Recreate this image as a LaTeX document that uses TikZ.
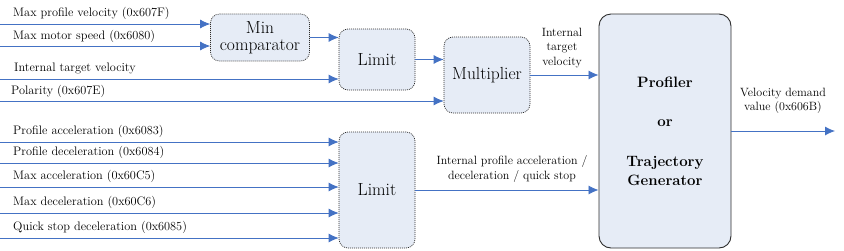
\documentclass[tikz,border=0pt]{standalone}
\usetikzlibrary{arrows.meta, positioning, calc}
\definecolor{flowblue}{RGB}{68, 114, 196}
\definecolor{boxfill}{RGB}{230, 236, 246}
\definecolor{boxline}{RGB}{45, 45, 45}

\begin{document}
\begin{tikzpicture}[
    x=1pt, y=-1pt,
    block/.style={rectangle, rounded corners=9pt, draw=boxline, line width=0.7pt, dash pattern=on 1pt off 1pt, fill=boxfill, font=\fontsize{17.5}{17}\selectfont, align=center, inner sep=1pt},
    genblock/.style={rectangle, rounded corners=12pt, draw=boxline, line width=0.9pt, fill=boxfill, font=\fontsize{15}{19}\selectfont\bfseries, align=center},
    sig/.style={font=\fontsize{12.3}{12}\selectfont, anchor=west, inner sep=0pt},
    note/.style={font=\fontsize{12}{14.5}\selectfont, align=center, inner sep=0pt},
    arrow/.style={-{Latex[length=10pt, width=9pt]}, flowblue, line width=0.8pt}
]
\useasboundingbox (0,0) rectangle (844,250);

% Blocks
\node[block, minimum width=99pt, minimum height=47pt] (minc) at (260,37.5) {Min\\comparator};
\node[block, minimum width=76pt, minimum height=61pt] (limA) at (377,59.5) {Limit};
\node[block, minimum width=86pt, minimum height=76pt] (mult) at (487,75) {Multiplier};
\node[block, minimum width=76pt, minimum height=116pt] (limB) at (377,190) {Limit};
\node[genblock, minimum width=132pt, minimum height=234pt] (prof) at (665,131) {Profiler\\[20pt]or\\[21pt]Trajectory\\Generator};

% Velocity inputs
\coordinate (inA) at (0,24);
\coordinate (inB) at (0,46);
\coordinate (inC) at (0,79);
\coordinate (inD) at (0,101);
\node[sig] (labA) at (13,13) {Max profile velocity (0x607F)};
\node[sig] (labB) at (13,36) {Max motor speed (0x6080)};
\node[sig] (labC) at (14,68) {Internal target velocity};
\node[sig] (labD) at (11,91) {Polarity (0x607E)};
\draw[arrow] (inA) -- (inA -| minc.west);
\draw[arrow] (inB) -- (inB -| minc.west);
\draw[arrow] (inC) -- (inC -| limA.west);
\draw[arrow] (inD) -- (inD -| mult.west);

% Acceleration inputs
\foreach \y/\txt [count=\i] in {142/Profile acceleration (0x6083), 163/Profile deceleration (0x6084), 187/Max acceleration (0x60C5), 213/Max deceleration (0x60C6), 238/Quick stop deceleration (0x6085)}{
  \coordinate (acc\i) at (0,\y);
  \node[sig] (acclab\i) at (13,\y-11) {\txt};
  \draw[arrow] (acc\i) -- (acc\i -| limB.west);
}

% Internal connections
\draw[arrow] (minc.east) -- (minc.east -| limA.west);
\draw[arrow] (limA.east) -- (limA.east -| mult.west);
\draw[arrow] (mult.east) -- (mult.east -| prof.west);
\draw[arrow] (limB.east) -- (limB.east -| prof.west);
\coordinate (out) at (835,131);
\draw[arrow] (prof.east) -- (out);

% Signal notes
\node[note] (itv) at (562,48) {Internal\\target\\velocity};
\node[note] (ipa) at (512,169) {Internal profile acceleration /\\deceleration / quick stop};
\node[note] (vdv) at (783,101) {Velocity demand\\value (0x606B)};
\end{tikzpicture}
\end{document}
